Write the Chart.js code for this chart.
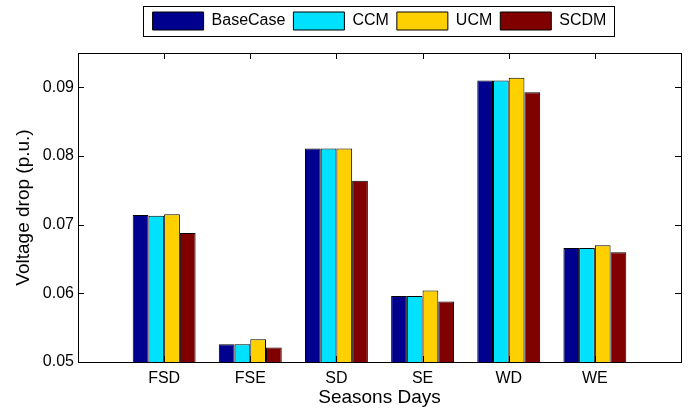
<!DOCTYPE html>
<html>
<head>
<meta charset="utf-8">
<script src="https://cdn.jsdelivr.net/npm/chart.js@4/dist/chart.umd.min.js"></script>
<style>
  body { margin: 0; background: #fff; }
  canvas { display: block; }
</style>
</head>
<body>
<canvas id="chart" width="689" height="414"></canvas>
<script>
// values
const categories = ['FSD', 'FSE', 'SD', 'SE', 'WD', 'WE'];
const baseCase = [0.0714, 0.0526, 0.0811, 0.0596, 0.0910, 0.0666];
const ccm      = [0.0713, 0.0526, 0.0811, 0.0596, 0.0910, 0.0666];
const ucm      = [0.0715, 0.0533, 0.0811, 0.0604, 0.0914, 0.0670];
const scdm     = [0.0688, 0.0521, 0.0764, 0.0588, 0.0893, 0.0660];
const seriesNames = ['BaseCase', 'CCM', 'UCM', 'SCDM'];
const seriesColors = ['#00008f', '#00e0ff', '#ffd000', '#800000'];
const yTicks = [0.05, 0.06, 0.07, 0.08, 0.09];

// empty slot at both ends so the groups sit at 1..6 of a 0..7 axis
const labels = [''].concat(categories, ['']);
const pad = arr => [null].concat(arr, [null]);

Chart.defaults.font.family = '"Liberation Sans", Arial, sans-serif';
Chart.defaults.color = '#000';

// box round the plot, inward ticks, frame round the legend
const framePlugin = {
    id: 'frame',
    afterDraw(chart) {
        const ctx = chart.ctx;
        const a = chart.chartArea;
        const x = chart.scales.x;
        const y = chart.scales.y;
        ctx.save();
        ctx.strokeStyle = '#000';
        ctx.lineWidth = 1;
        ctx.strokeRect(Math.round(a.left) + 0.5, Math.round(a.top) + 0.5,
            Math.round(a.right - a.left), Math.round(a.bottom - a.top));
        ctx.beginPath();
        const tl = 6;
        yTicks.forEach(v => {
            const py = Math.round(y.getPixelForValue(v)) + 0.5;
            ctx.moveTo(a.left, py); ctx.lineTo(a.left + tl, py);
            ctx.moveTo(a.right, py); ctx.lineTo(a.right - tl, py);
        });
        categories.forEach((c, i) => {
            const px = Math.round(x.getPixelForValue(i + 1)) + 0.5;
            ctx.moveTo(px, a.bottom); ctx.lineTo(px, a.bottom - tl);
            ctx.moveTo(px, a.top); ctx.lineTo(px, a.top + tl);
        });
        ctx.stroke();

        const hb = chart.legend.legendHitBoxes;
        if (hb && hb.length) {
            const first = hb[0], last = hb[hb.length - 1];
            const lx = Math.round(first.left - 10) + 0.5;
            const rx = Math.round(last.left + last.width + 8) + 0.5;
            const ty = Math.round(first.top - 6) + 0.5;
            const by = Math.round(first.top + first.height + 6) + 0.5;
            ctx.strokeRect(lx, ty, rx - lx, by - ty);
        }
        ctx.restore();
    }
};

new Chart(document.getElementById('chart'), {
    type: 'bar',
    data: {
        labels: labels,
        datasets: [baseCase, ccm, ucm, scdm].map((d, i) => ({
            label: seriesNames[i],
            data: pad(d),
            backgroundColor: seriesColors[i],
            borderColor: '#000',
            borderWidth: 1,
            categoryPercentage: 0.73,
            barPercentage: 1.0
        }))
    },
    options: {
        responsive: false,
        animation: false,
        layout: { padding: { top: 4, right: 8, bottom: 0, left: 0 } },
        plugins: {
            legend: {
                position: 'top',
                fullSize: false,
                labels: {
                    boxWidth: 51,
                    boxHeight: 18,
                    padding: 8,
                    font: { size: 16 }
                }
            },
            tooltip: { enabled: false }
        },
        scales: {
            x: {
                type: 'category',
                offset: false,
                grid: { display: false, drawTicks: false },
                border: { display: false },
                ticks: { autoSkip: false, maxRotation: 0, padding: 7, font: { size: 16 } },
                title: {
                    display: true,
                    text: 'Seasons Days',
                    font: { size: 19 },
                    padding: { top: 0, bottom: 5 }
                },
                afterFit(s) { s.height = 52; }
            },
            xTop: {
                type: 'category',
                position: 'top',
                offset: false,
                grid: { display: false, drawTicks: false },
                border: { display: false },
                ticks: { display: false },
                afterFit(s) { s.height = 13; }
            },
            y: {
                min: 0.05,
                max: 0.095,
                grid: { display: false, drawTicks: false },
                border: { display: false },
                ticks: {
                    stepSize: 0.01,
                    includeBounds: false,
                    padding: 4,
                    font: { size: 16 },
                    callback: v => v.toFixed(2)
                },
                title: {
                    display: true,
                    text: 'Voltage drop (p.u.)',
                    font: { size: 19 },
                    padding: { top: 12, bottom: 0 }
                },
                afterFit(s) { s.width = 78; }
            }
        }
    },
    plugins: [framePlugin]
});
</script>
</body>
</html>
